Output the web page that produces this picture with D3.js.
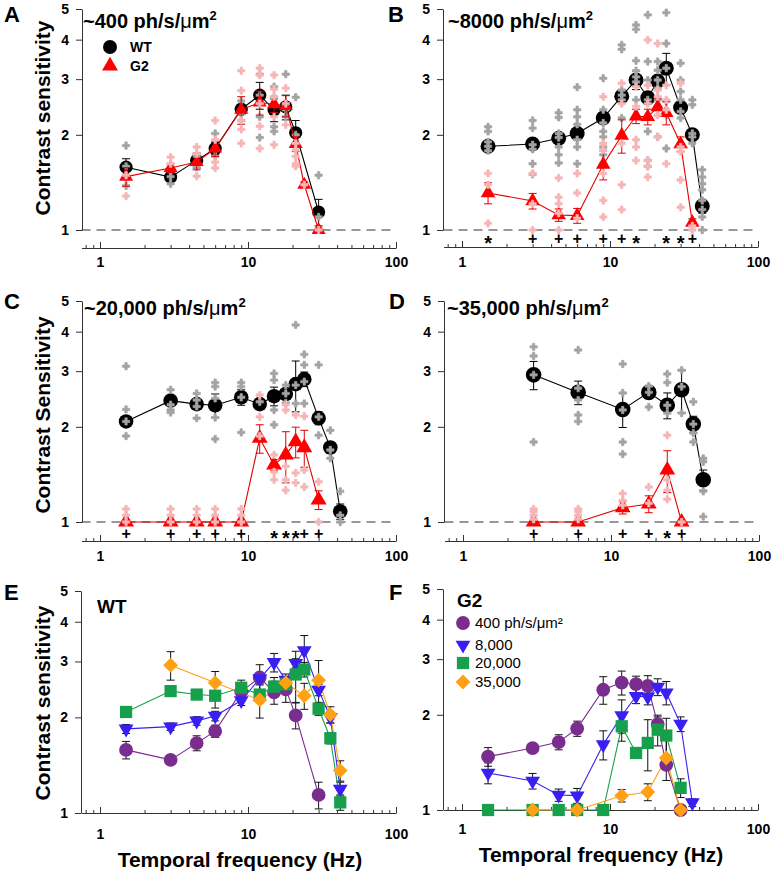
<!DOCTYPE html>
<html><head><meta charset="utf-8">
<script src="https://cdn.jsdelivr.net/npm/d3@7"></script>
<style>
body{margin:0;background:#fff;}
svg text{font-family:"Liberation Sans",Arial,sans-serif;}
</style></head>
<body><svg id="c" width="775" height="878"></svg>
<script>
// ---------------- DATA ----------------
const yTicks = [1,2,3,4,5];
const xMajor = [1,10,100];
const xMinor = [0.8,0.9,2,3,4,5,6,7,8,9,20,30,40,50,60,70,80,90];

// Panel A (~400)
const freqA_WT = [1.5,3,4.5,6,9,12,15,18,21,30];
const wtA      = [1.58,1.47,1.66,1.81,2.41,2.67,2.40,2.45,2.03,1.14];
const wtA_err  = [0.10,0.04,0.09,0.08,0.06,0.26,0.20,0.22,0.19,0.11];
const freqA_G2 = [1.5,3,4.5,6,9,12,15,18,21,24,30];
const g2A      = [1.475,1.57,1.64,1.81,2.40,2.53,2.50,2.47,1.87,1.39,1.0];
const g2A_err  = [0.10,0.05,0.09,0.10,0.24,0.22,0.15,0.19,0.10,0.03,0];
const ptsA_WT = [[1.5,[1.85,1.59,1.38]],[3,[1.53,1.475,1.40]],[4.5,[1.71,1.62,1.58]],[6,[2.02,1.79,1.71]],
  [9,[2.56,2.34,2.22]],[12,[3.11,2.67,2.28,1.96]],[15,[2.84,2.61,2.12,2.05]],[18,[3.11,2.40,2.28]],
  [21,[2.63,2.0,1.88]],[30,[1.49,1.10]]];
const ptsA_G2 = [[1.5,[1.49,1.28]],[3,[1.70,1.62]],[4.5,[1.83,1.74,1.48]],[6,[2.22,1.93,1.64,1.57]],
  [9,[3.19,2.76,2.22,2.08,1.88]],[12,[3.25,3.09,2.51,2.13,1.81]],[15,[3.09,2.79,2.64,2.28,1.86]],
  [18,[2.81,2.51,2.15]],[21,[1.88,1.79,1.71,1.62,1.59]],[24,[1.39]],[30,[1.0]]];

// Panel B (~8000)
const freqB_WT = [1.5,3,4.5,6,9,12,15,18,21,24,30,36,42];
const wtB      = [1.84,1.87,1.95,2.02,2.26,2.65,2.98,2.62,2.96,3.25,2.44,2.0,1.19];
const wtB_err  = [0.06,0.05,0.06,0.07,0.08,0.12,0.20,0.12,0.10,0.37,0.10,0.08,0.06];
const freqB_G2 = [1.5,3,4.5,6,9,12,15,18,21,24,30,36];
const g2B      = [1.31,1.235,1.115,1.11,1.61,1.99,2.29,2.28,2.45,2.35,1.87,1.055];
const g2B_err  = [0.10,0.07,0.05,0.06,0.17,0.24,0.12,0.13,0.15,0.20,0.10,0.03];
const ptsB_WT = [[1.5,[2.12,2.05,1.90,1.84,1.78]],[3,[2.22,2.10,1.86,1.80,1.62,1.50]],
  [4.5,[2.35,2.27,2.02,1.96,1.83,1.73,1.63]],[6,[2.83,2.40,2.28,2.16,1.93,1.83,1.62]],
  [9,[3.02,2.40,2.18,2.05,1.97,1.83,1.73,1.62]],[12,[3.85,3.73,2.77,2.67,2.58,2.26]],
  [15,[4.45,4.31,3.43,3.19,3.05,2.94,2.58]],[18,[4.79,3.41,2.98,2.58,2.05,1.66,1.59]],
  [21,[3.41,3.20,2.98,2.81,2.58,2.40,1.97]],[24,[4.87,3.89,3.25,2.55,2.31,1.81]],
  [30,[3.37,2.98,2.74,2.58,2.37,2.26]],[36,[2.58,2.49,2.02,1.97,1.88]],
  [42,[1.55,1.47,1.40,1.34,1.24,1.16,1.10,1.0]]];
const ptsB_G2 = [[1.5,[1.51,1.39,1.05]],[3,[1.51,1.21,1.0]],[4.5,[1.46,1.27,1.21,1.13,1.0]],
  [6,[1.51,1.31,1.09]],[9,[2.64,1.88,1.79,1.51,1.24,1.10]],[12,[2.91,2.51,1.88,1.39,1.16]],
  [15,[2.84,2.46,1.93,1.83,1.66]],[18,[3.99,2.87,2.51,1.66,1.59,1.47]],
  [21,[3.89,2.77,2.64,2.31,1.97]],[24,[2.87,2.58,2.40,1.62]],[30,[2.91,1.83,1.77,1.44,1.18]],
  [36,[1.03,1.0]]];
const sigB = [[1.5,"*"],[3,"+"],[4.5,"+"],[6,"+"],[9,"+"],[12,"+"],[15,"*"],[24,"*"],[30,"*"],[36,"+"]];

// Panel C (~20,000)
const freqC_WT = [1.5,3,4.5,6,9,12,15,18,21,24,30,36,42];
const wtC      = [2.08,2.42,2.36,2.34,2.48,2.36,2.50,2.54,2.73,2.83,2.13,1.72,1.08];
const wtC_err  = [0.05,0.06,0.05,0.20,0.14,0.04,0.17,0.10,0.50,0.15,0.10,0.07,0.06];
const freqC_G2 = [1.5,3,4.5,6,9,12,15,18,21,24,30];
const g2C      = [1,1,1,1,1,1.84,1.515,1.63,1.795,1.72,1.175];
const g2C_err  = [0,0,0,0,0,0.19,0.06,0.30,0.20,0.23,0.08];
const ptsC_WT = [[1.5,[3.11,2.27,2.08,1.87]],[3,[2.62,2.35,2.26,2.22]],[4.5,[2.55,2.43,2.32,2.13]],
  [6,[2.76,2.68,2.46,2.14,1.83]],[9,[2.76,2.68,2.48,1.92]],[12,[2.40]],[15,[2.95,2.81,2.26,2.03]],
  [18,[2.71,2.55,2.38]],[21,[4.2,2.71,2.37]],[24,[3.39,3.14,2.78,2.37]],[30,[3.14,2.15,1.88]],
  [36,[1.95,1.69,1.59]],[42,[1.25,1.05,1.0]]];
const ptsC_G2 = [[1.5,[1.10,1.05,1.0]],[3,[1.10,1.05,1.0]],[4.5,[1.10,1.05,1.0]],[6,[1.10,1.05,1.0]],
  [9,[1.10,1.05,1.0]],[12,[2.52,2.15,1.87]],[15,[1.63,1.44,1.36]],[18,[2.35,2.26,1.50,1.36,1.26]],
  [21,[2.18,1.43,1.33]],[24,[2.16,1.46,1.29]],[30,[1.34,1.0]]];
const sigC = [[1.5,"+"],[3,"+"],[4.5,"+"],[6,"+"],[9,"+"],[15,"*"],[18,"*"],[21,"*"],[24,"+"],[30,"+"]];

// Panel D (~35,000)
const freqD_WT = [3,6,12,18,24,30,36,42];
const wtD      = [2.92,2.57,2.27,2.57,2.34,2.62,2.04,1.36];
const wtD_err  = [0.30,0.22,0.28,0.05,0.22,0.40,0.12,0.10];
const freqD_G2 = [3,6,12,18,24,30];
const g2D      = [1,1,1.11,1.14,1.46,1.0];
const g2D_err  = [0,0,0.05,0.07,0.22,0];
const ptsD_WT = [[3,[3.58,3.35,2.92,1.79]],[6,[3.50,2.65,2.43,2.18,2.08]],[12,[3.16,2.56,2.26,1.79,1.64]],
  [18,[2.69,2.57,2.31]],[24,[2.94,2.76,2.34,2.21]],[30,[3.02,2.68,2.21]],[36,[2.40,2.04,1.91,1.79]],
  [42,[1.59,1.55,1.25,1.04]]];
const ptsD_G2 = [[3,[1.10,1.08,1.05,1.02]],[6,[1.10,1.08,1.05,1.02]],[12,[1.23,1.17,1.13]],
  [18,[1.29,1.146]],[24,[1.88,1.36,1.26,1.18]],[30,[1.0]]];
const sigD = [[3,"+"],[6,"+"],[12,"+"],[18,"+"],[24,"*"],[30,"+"]];

const lightLabels = ["400 ph/s/\u03bcm\u00b2","8,000","20,000","35,000"];

// ---------------- DRAWING ----------------
const svg = d3.select("#c");
const FONT = '"Liberation Sans",Arial,sans-serif';
const decade = 148;

function makeScales(c){
  const x = d3.scaleLog().domain([0.75,100]).range([c.x1 + decade*Math.log10(0.75), c.x1 + 2*decade]);
  const y = d3.scaleLog().domain([1,5]).range([c.y1, c.y5]);
  return {x,y};
}

function axes(c, s){
  const g = svg.append("g");
  const ya = g.append("g").attr("transform",`translate(${c.left},0)`)
    .call(d3.axisLeft(s.y).tickValues(yTicks).tickFormat(d3.format("d")).tickSizeOuter(0).tickSizeInner(6).tickPadding(7));
  ya.selectAll("text").attr("font-size",14).attr("font-weight","bold").attr("font-family",FONT).attr("fill","#000");
  ya.selectAll("path,line").attr("stroke","#333");
  const xa = g.append("g").attr("transform",`translate(0,${c.axY})`)
    .call(d3.axisBottom(s.x).tickValues(xMajor).tickFormat(d3.format("d")).tickSizeOuter(0).tickSizeInner(-6).tickPadding(c.pad));
  xa.selectAll("text").attr("font-size",14).attr("font-weight","bold").attr("font-family",FONT).attr("fill","#000");
  xa.selectAll("path,line").attr("stroke","#333");
  const xm = g.append("g").attr("transform",`translate(0,${c.axY})`)
    .call(d3.axisBottom(s.x).tickValues(xMinor).tickFormat("").tickSizeOuter(0).tickSizeInner(-3));
  xm.select(".domain").remove();
  xm.selectAll("line").attr("stroke","#333");
  if(c.dash){
    g.append("line").attr("x1",s.x(0.75)).attr("x2",s.x(100)).attr("y1",s.y(1)).attr("y2",s.y(1))
      .attr("stroke","#333").attr("stroke-width",1.1).attr("stroke-dasharray","9,6");
  }
}

function label(txt,x,y,size,weight,anchor){
  return svg.append("text").attr("x",x).attr("y",y).attr("font-size",size)
    .attr("font-weight",weight||"bold").attr("text-anchor",anchor||"start").attr("font-family",FONT).text(txt);
}
function title(txt,x,y){
  const t = svg.append("text").attr("x",x).attr("y",y).attr("font-size",20).attr("font-weight","bold").attr("font-family",FONT);
  t.append("tspan").text(txt+" ph/s/");
  t.append("tspan").attr("font-weight","normal").text("\u03bc");
  t.append("tspan").text("m");
  t.append("tspan").attr("dy",-8).attr("font-size",13).text("2");
}
function ylabel(txt,x,y){
  svg.append("text").attr("transform",`translate(${x},${y}) rotate(-90)`).attr("text-anchor","middle")
    .attr("font-size",21).attr("font-weight","bold").attr("font-family",FONT).text(txt);
}

function symPath(type,size){
  const m = {circle:d3.symbolCircle, tri:d3.symbolTriangle, triDown:d3.symbolTriangle, square:d3.symbolSquare, diamond:d3.symbolSquare};
  return d3.symbol().type(m[type]).size(size)();
}
function rot(type){ return type==="triDown" ? 180 : (type==="diamond" ? 45 : 0); }

function errbars(g,s,fr,vals,err,color){
  const d = fr.map((f,i)=>({f,v:vals[i],e:err[i]})).filter(d=>d.e>0);
  g.selectAll(null).data(d).enter().append("line")
    .attr("x1",d=>s.x(d.f)).attr("x2",d=>s.x(d.f)).attr("y1",d=>s.y(d.v+d.e)).attr("y2",d=>s.y(Math.max(1,d.v-d.e)))
    .attr("stroke",color).attr("stroke-width",1);
  [1,-1].forEach(k=>{
    g.selectAll(null).data(d).enter().append("line")
      .attr("x1",d=>s.x(d.f)-4).attr("x2",d=>s.x(d.f)+4)
      .attr("y1",d=>s.y(Math.max(1,d.v+k*d.e))).attr("y2",d=>s.y(Math.max(1,d.v+k*d.e)))
      .attr("stroke",color).attr("stroke-width",1);
  });
}
function line(g,s,fr,vals,color){
  g.append("path").datum(fr.map((f,i)=>[f,vals[i]]))
    .attr("d",d3.line().x(d=>s.x(d[0])).y(d=>s.y(d[1]))).attr("fill","none").attr("stroke",color).attr("stroke-width",1.1);
}
function markers(g,s,fr,vals,type,size,color){
  g.selectAll(null).data(fr.map((f,i)=>[f,vals[i]])).enter().append("path")
    .attr("d",symPath(type,size)).attr("fill",color)
    .attr("transform",d=>`translate(${s.x(d[0])},${s.y(d[1])}) rotate(${rot(type)})`);
}
function points(g,s,pts,color){
  const flat = [];
  pts.forEach(([f,vs])=>vs.forEach(v=>flat.push([f,v])));
  g.selectAll(null).data(flat).enter().append("path")
    .attr("d",d3.symbol().type(d3.symbolCross).size(30)()).attr("fill",color)
    .attr("stroke",color).attr("stroke-width",0.6).attr("stroke-linejoin","round")
    .attr("transform",d=>`translate(${s.x(d[0])},${s.y(d[1])})`);
}
function sig(s,marks,yc){
  svg.append("g").selectAll(null).data(marks).enter().append("text")
    .attr("x",d=>s.x(d[0])).attr("y",d=>yc + (d[1]==="*"?11.5:5.5))
    .attr("text-anchor","middle").attr("font-size",d=>d[1]==="*"?20:16).attr("font-weight","bold")
    .attr("font-family",FONT).attr("fill","#000")
    .text(d=>d[1]);
}

const GRAY="#a3a3a3", PINK="#f6b5b7", RED="#ff0000";
function groupPanel(c, wt, g2){
  const s = makeScales(c);
  axes(c,s);
  const g = svg.append("g");
  line(g,s,wt.f,wt.v,"#000"); errbars(g,s,wt.f,wt.v,wt.e,"#000");
  markers(g,s,wt.f,wt.v,"circle",Math.PI*c.r*c.r,"#000");
  points(g,s,wt.p,GRAY);
  line(g,s,g2.f,g2.v,"#e00000"); errbars(g,s,g2.f,g2.v,g2.e,"#e00000");
  markers(g,s,g2.f,g2.v,"tri",c.tri,RED);
  points(g,s,g2.p,PINK);
  return s;
}

// Panel configs (layout)
const cA = {x1:100,left:82,y1:230,y5:9,axY:248,pad:9,dash:true,r:6.6,tri:85};
const cB = {x1:462,left:443,y1:230,y5:9,axY:247,pad:10,dash:true,r:7.5,tri:92};
const cC = {x1:100,left:82,y1:522,y5:301,axY:541,pad:10,dash:true,r:7.3,tri:110};
const cD = {x1:463,left:444,y1:522,y5:301,axY:541,pad:10,dash:true,r:7.8,tri:108};
const cE = {x1:100,left:81,y1:813,y5:591,axY:813,pad:16,dash:false};
const cF = {x1:462,left:443,y1:810,y5:589,axY:810,pad:14,dash:false};

groupPanel(cA,{f:freqA_WT,v:wtA,e:wtA_err,p:ptsA_WT},{f:freqA_G2,v:g2A,e:g2A_err,p:ptsA_G2});
const sB = groupPanel(cB,{f:freqB_WT,v:wtB,e:wtB_err,p:ptsB_WT},{f:freqB_G2,v:g2B,e:g2B_err,p:ptsB_G2});
const sC = groupPanel(cC,{f:freqC_WT,v:wtC,e:wtC_err,p:ptsC_WT},{f:freqC_G2,v:g2C,e:g2C_err,p:ptsC_G2});
const sD = groupPanel(cD,{f:freqD_WT,v:wtD,e:wtD_err,p:ptsD_WT},{f:freqD_G2,v:g2D,e:g2D_err,p:ptsD_G2});
sig(sB,sigB,238); sig(sC,sigC,533); sig(sD,sigD,533);

// Panels E and F: all light levels
const levelColors = ["#7b2d8f","#3a1ff2","#16a04c","#ffa015"];
const levelShapes = [["circle",150],["triDown",95],["square",150],["diamond",110]];
function levelPanel(c, series){
  const s = makeScales(c);
  axes(c,s);
  const g = svg.append("g");
  series.forEach(sr=>errbars(g,s,sr.f,sr.v,sr.e,"#111"));
  series.forEach((sr,i)=>line(g,s,sr.f,sr.v,levelColors[i]));
  series.forEach((sr,i)=>markers(g,s,sr.f,sr.v,levelShapes[i][0],levelShapes[i][1],levelColors[i]));
  return s;
}
levelPanel(cE,[{f:freqA_WT,v:wtA,e:wtA_err},{f:freqB_WT,v:wtB,e:wtB_err},{f:freqC_WT,v:wtC,e:wtC_err},{f:freqD_WT,v:wtD,e:wtD_err}]);
levelPanel(cF,[{f:freqA_G2,v:g2A,e:g2A_err},{f:freqB_G2,v:g2B,e:g2B_err},{f:freqC_G2,v:g2C,e:g2C_err},{f:freqD_G2,v:g2D,e:g2D_err}]);

// Legend A
svg.append("path").attr("d",symPath("circle",Math.PI*49)).attr("transform","translate(110,47)").attr("fill","#000");
svg.append("path").attr("d",symPath("tri",110)).attr("transform","translate(110,66)").attr("fill",RED);
label("WT",130,52,14); label("G2",130,71,14);

// Legend F
lightLabels.forEach((t,i)=>{
  const yy = [623,645,663,682][i];
  svg.append("path").attr("d",symPath(levelShapes[i][0],levelShapes[i][1]))
    .attr("transform",`translate(463,${yy}) rotate(${rot(levelShapes[i][0])})`).attr("fill",levelColors[i]);
  label(t,475,yy+5,15,"normal");
});

// Titles & letters
title("~400",83,28); title("~8000",448,28); title("~20,000",84,315); title("~35,000",447,315);
label("WT",97,613,19); label("G2",457,607,19);
label("A",4,22,22); label("B",388,22,22); label("C",4,309,22); label("D",389,309,22);
label("E",4,600,22); label("F",389,600,22);
ylabel("Contrast sensitivity",50,118); ylabel("Contrast Sensitivity",50,415); ylabel("Contrast sensitivity",50,703);
label("Temporal frequency (Hz)",240,867,21,"bold","middle");
label("Temporal frequency (Hz)",601,862,21,"bold","middle");
</script></body></html>
